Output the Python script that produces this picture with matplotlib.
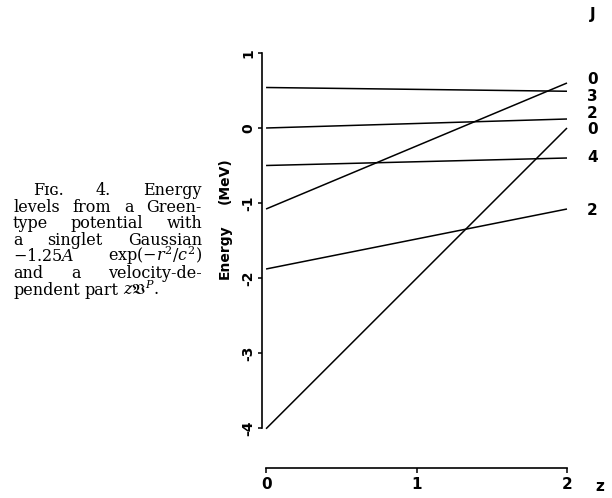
import matplotlib
matplotlib.use("Agg")
import matplotlib.pyplot as plt

# energy levels vs z (straight lines from z=0 to z=2)
z_ends = [0.0, 2.0]
level_J = ["3", "0", "2", "4", "0", "2"]
level_start = [0.54, -1.08, 0.0, -0.50, -4.01, -1.88]
level_end = [0.49, 0.60, 0.12, -0.40, 0.0, -1.08]

# J labels at the right, top to bottom, spread apart as printed
right_labels = ["0", "3", "2", "0", "4", "2"]
right_label_y = [0.64, 0.42, 0.19, -0.02, -0.39, -1.10]

yticks = [1, 0, -1, -2, -3, -4]
xticks = [0, 1, 2]

caption_lines = [
    ["F\u026a\u0262.", "4.", "Energy"],
    ["levels", "from", "a", "Green-"],
    ["type", "potential", "with"],
    ["a", "singlet", "Gaussian"],
    [r"$-1.25A$", r"$\exp(-r^2/c^2)$"],
    ["and", "a", "velocity-de-"],
    ["pendent", "part", r"$z\mathfrak{V}^P$."],
]

plt.rcParams["axes.unicode_minus"] = False
plt.rcParams["mathtext.fontset"] = "dejavuserif"
SANS = ["Liberation Sans Narrow", "DejaVu Sans"]
SERIF = ["DejaVu Serif"]

W, H = 612, 498
fig = plt.figure(figsize=(W / 100, H / 100), dpi=100)
ax = fig.add_axes([262 / W, 1 - 428 / H, (567 - 262) / W, (428 - 53) / H])
ax.set_xlim(-0.027, 2.0)
ax.set_ylim(-4, 1)

for s, e in zip(level_start, level_end):
    ax.plot(z_ends, [s, e], color="black", lw=1.1, clip_on=False,
            solid_capstyle="butt")

for lab, y in zip(right_labels, right_label_y):
    ax.text(2.17, y, lab, ha="center", va="center", fontsize=11,
            fontweight="bold", family=SANS, clip_on=False)

ax.spines["top"].set_visible(False)
ax.spines["right"].set_visible(False)
ax.spines["left"].set_bounds(-4, 1)
ax.spines["left"].set_linewidth(1.2)
ax.spines["bottom"].set_position(("outward", 28.8))
ax.spines["bottom"].set_bounds(0, 2)
ax.spines["bottom"].set_linewidth(1.2)

ax.set_yticks(yticks)
ax.set_yticklabels([str(t) for t in yticks])
ax.set_xticks(xticks)
ax.set_xticklabels([str(t) for t in xticks])
ax.tick_params(axis="y", direction="out", length=3, width=1.1, pad=2,
               labelrotation=90, labelsize=10)
ax.tick_params(axis="x", direction="out", length=3.6, width=1.1, pad=3,
               labelsize=11)
for t in ax.get_xticklabels() + ax.get_yticklabels():
    t.set_fontweight("bold")
    t.set_family(SANS)
for t in ax.get_yticklabels():
    t.set_va("center")

# axis titles
fig.text(225 / W, 1 - 252 / H, "Energy", rotation=90, ha="center", va="center",
         fontsize=10, fontweight="bold", family=SANS)
fig.text(225 / W, 1 - 181 / H, "(MeV)", rotation=90, ha="center", va="center",
         fontsize=10, fontweight="bold", family=SANS)
fig.text(600 / W, 1 - 486 / H, "z", ha="center", va="center", fontsize=11,
         fontweight="bold", family=SANS)
fig.text(593 / W, 1 - 15 / H, "J", ha="center", va="center", fontsize=11,
         fontweight="bold", family=SANS)

# justified caption
renderer = fig.canvas.get_renderer()
cap_size = 11.5
for i, words in enumerate(caption_lines):
    yb = 1 - (195 + 16.6 * i) / H
    x0 = 33 if i == 0 else 13
    x1 = 202
    texts = [fig.text(0, yb, w, fontsize=cap_size, family=SERIF,
                      va="baseline", ha="left") for w in words]
    widths = [t.get_window_extent(renderer).width for t in texts]
    if i == len(caption_lines) - 1:
        gap = cap_size * 100 / 72 * 0.3
    else:
        gap = (x1 - x0 - sum(widths)) / (len(words) - 1)
    x = x0
    for t, w in zip(texts, widths):
        t.set_x(x / W)
        x += w + gap

fig.savefig("out.png", dpi=100)
